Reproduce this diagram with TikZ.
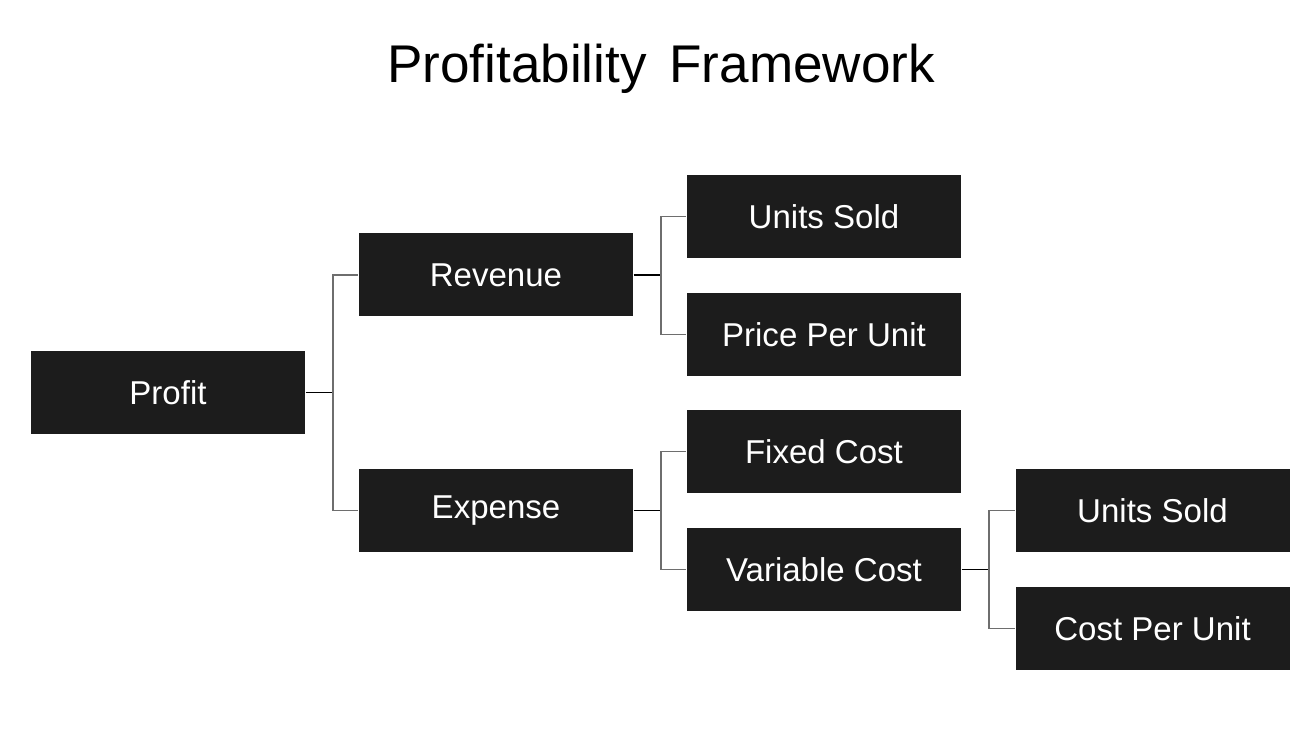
\documentclass[tikz,border=0pt]{standalone}
\usepackage{fontspec}
\setmainfont{Liberation Sans}
\usepackage{xcolor}
\definecolor{boxfill}{HTML}{1C1C1C}
\definecolor{linegray}{HTML}{6E6E6E}

\begin{document}
\begin{tikzpicture}[
        box/.style={fill=boxfill, text=white, minimum width=2.74cm,
                    minimum height=0.83cm, align=center, inner sep=0pt,
                    font=\fontsize{9.4}{11}\selectfont},
        stub/.style={draw=black, line width=0.45pt},
        branch/.style={draw=linegray, line width=0.5pt}
    ]
        \useasboundingbox (0,0) rectangle (13.16,-7.45);
        \node (title) at (6.61,-0.69) {\fontsize{15.1}{18}\selectfont Profitability\hspace{0.08cm} Framework};

        \node[box] (profit)   at (1.68,  -3.925) {Profit};
        \node[box] (revenue)  at (4.96,  -2.75)  {Revenue};
        \node[box] (expense)  at (4.96,  -5.105) {Expense};
        \node[box] (units)    at (8.24,  -2.165) {Units Sold};
        \node[box] (price)    at (8.24,  -3.345) {Price Per Unit};
        \node[box] (fixed)    at (8.24,  -4.515) {Fixed Cost};
        \node[box] (variable) at (8.24,  -5.695) {Variable Cost};
        \node[box] (vunits)   at (11.525,-5.105) {Units Sold};
        \node[box] (unitcost) at (11.525,-6.285) {Cost Per Unit};

        \draw[stub] (profit.east) -- ++(0.27,0) coordinate (j1);
        \draw[branch] (j1) |- (revenue.west);
        \draw[branch] (j1) |- (expense.west);
        \draw[stub] (revenue.east) -- ++(0.27,0) coordinate (j2);
        \draw[branch] (j2) |- (units.west);
        \draw[branch] (j2) |- (price.west);
        \draw[stub] (expense.east) -- ++(0.27,0) coordinate (j3);
        \draw[branch] (j3) |- (fixed.west);
        \draw[branch] (j3) |- (variable.west);
        \draw[stub] (variable.east) -- ++(0.27,0) coordinate (j4);
        \draw[branch] (j4) |- (vunits.west);
        \draw[branch] (j4) |- (unitcost.west);
    \end{tikzpicture}
\end{document}
